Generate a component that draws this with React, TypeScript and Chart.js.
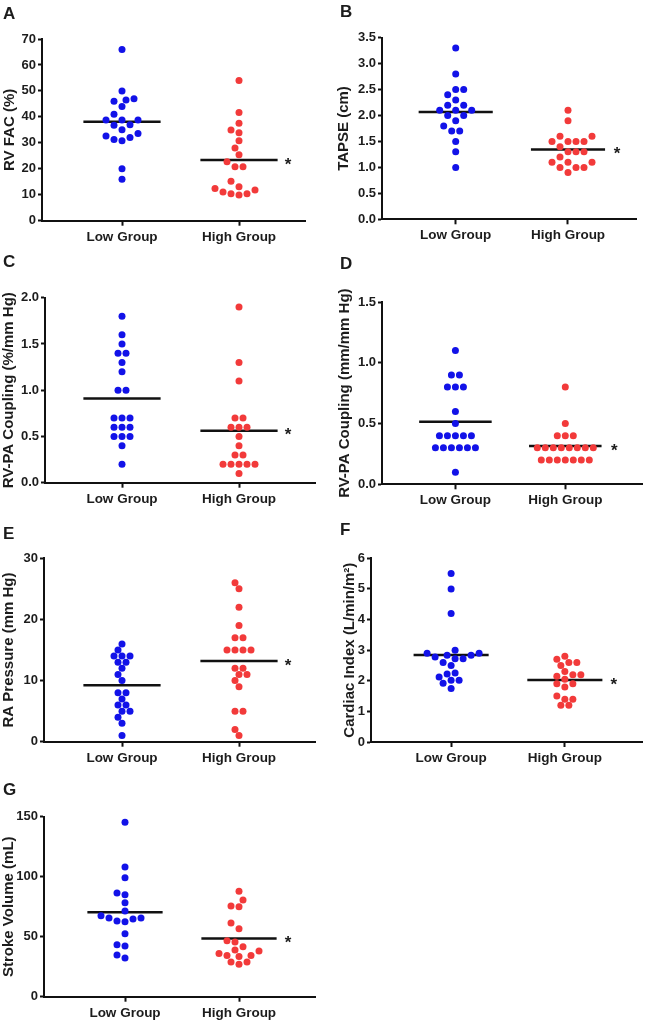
import React, { useEffect, useLayoutEffect, useRef } from "react";
import { Chart, registerables } from "chart.js";

Chart.register(...registerables);

// ---------- data ----------
const groupLabels = ["Low Group", "High Group"];

// A: RV FAC (%)
const rvFacLow = [66, 50, 47, 46.5, 46, 44, 41, 38.8, 38.8, 38.8, 37, 36.8, 35, 33.6, 32.6, 32.1, 31.3, 30.8, 20, 16];
const rvFacHigh = [54, 41.7, 37.5, 34.9, 33.9, 30.8, 28, 25.4, 22.7, 20.8, 20.8, 15.2, 13.1, 12.4, 11.8, 11.1, 10.4, 10.4, 9.9];
// B: TAPSE (cm)
const tapseLow = [3.3, 2.8, 2.5, 2.5, 2.4, 2.3, 2.2, 2.2, 2.1, 2.1, 2.1, 2.0, 2.0, 1.9, 1.8, 1.7, 1.7, 1.5, 1.3, 1.0];
const tapseHigh = [2.1, 1.9, 1.6, 1.6, 1.5, 1.5, 1.5, 1.5, 1.4, 1.3, 1.3, 1.3, 1.2, 1.1, 1.1, 1.1, 1.0, 1.0, 1.0, 0.9];
// C: RV-PA Coupling (%/mm Hg)
const facCouplingLow = [1.8, 1.6, 1.5, 1.4, 1.4, 1.3, 1.2, 1.0, 1.0, 0.7, 0.7, 0.7, 0.6, 0.6, 0.6, 0.5, 0.5, 0.5, 0.4, 0.2];
const facCouplingHigh = [1.9, 1.3, 1.1, 0.7, 0.7, 0.6, 0.6, 0.6, 0.5, 0.4, 0.3, 0.3, 0.2, 0.2, 0.2, 0.2, 0.2, 0.1];
// D: RV-PA Coupling (mm/mm Hg)
const tapseCouplingLow = [1.1, 0.9, 0.9, 0.8, 0.8, 0.8, 0.6, 0.5, 0.4, 0.4, 0.4, 0.4, 0.4, 0.3, 0.3, 0.3, 0.3, 0.3, 0.3, 0.1];
const tapseCouplingHigh = [0.8, 0.5, 0.4, 0.4, 0.4, 0.3, 0.3, 0.3, 0.3, 0.3, 0.3, 0.3, 0.3, 0.2, 0.2, 0.2, 0.2, 0.2, 0.2, 0.2];
// E: RA Pressure (mm Hg)
const raPressureLow = [16, 15, 14, 14, 14, 13, 13, 12, 11, 10, 8, 8, 7, 6, 6, 5, 5, 4, 3, 1];
const raPressureHigh = [26, 25, 22, 19, 17, 17, 15, 15, 15, 15, 12, 12, 11, 11, 10, 9, 5, 5, 2, 1];
// F: Cardiac Index (L/min/m²)
const cardiacIndexLow = [5.5, 5.0, 4.2, 3.0, 2.9, 2.9, 2.83, 2.83, 2.78, 2.72, 2.72, 2.6, 2.5, 2.25, 2.22, 2.12, 2.02, 2.02, 1.92, 1.75];
const cardiacIndexHigh = [2.8, 2.7, 2.6, 2.6, 2.5, 2.3, 2.2, 2.2, 2.15, 2.05, 1.9, 1.9, 1.8, 1.5, 1.4, 1.4, 1.2, 1.2];
// G: Stroke Volume (mL)
const strokeVolumeLow = [145.3, 108.1, 99.2, 86.4, 85, 78.3, 71.4, 67.5, 65.6, 65.6, 64.7, 63.1, 62.5, 52.5, 43.3, 42.2, 34.7, 32.2];
const strokeVolumeHigh = [87.8, 80.6, 75.6, 75, 61.4, 56.7, 46.7, 45.6, 41.7, 38.9, 38, 36.1, 34.4, 34.4, 33.6, 28.9, 28.9, 27];

// ---------- styles ----------
const FONT = "'Liberation Sans', Arial, Helvetica, sans-serif";
const BLUE = "#1212e8";
const RED = "#f23a3a";
const TEXT = "#1c1c1c";
const AXIS = "#111111";

type PanelCfg = {
  letter: string;
  yTitle: string;
  low: number[];
  high: number[];
  yMax: number;
  yStep: number;
  decimals: number;
  box: [number, number, number, number]; // left, top, width, height
  area: [number, number, number, number]; // left, top, right, bottom
  tickPx: [number, number];
  titleCenterX: number;
  letterPos: [number, number];
};

const panels: PanelCfg[] = [
  { letter: "A", yTitle: "RV FAC (%)", low: rvFacLow, high: rvFacHigh, yMax: 70, yStep: 10, decimals: 0,
    box: [0, 0, 323, 270], area: [42, 39, 305, 220.7], tickPx: [122, 239], titleCenterX: 10, letterPos: [3, 4.8] },
  { letter: "B", yTitle: "TAPSE (cm)", low: tapseLow, high: tapseHigh, yMax: 3.5, yStep: 0.5, decimals: 1,
    box: [323, 0, 323, 270], area: [382, 37.7, 636, 219.3], tickPx: [455.7, 568], titleCenterX: 344, letterPos: [340, 2.8] },
  { letter: "C", yTitle: "RV-PA Coupling (%/mm Hg)", low: facCouplingLow, high: facCouplingHigh, yMax: 2, yStep: 0.5, decimals: 1,
    box: [0, 255, 323, 270], area: [45, 297.7, 315, 482.7], tickPx: [122, 239], titleCenterX: 9, letterPos: [3, 252.8] },
  { letter: "D", yTitle: "RV-PA Coupling (mm/mm Hg)", low: tapseCouplingLow, high: tapseCouplingHigh, yMax: 1.5, yStep: 0.5, decimals: 1,
    box: [323, 255, 323, 270], area: [382, 302, 643, 484.3], tickPx: [455.7, 566], titleCenterX: 345, letterPos: [340, 254.8] },
  { letter: "E", yTitle: "RA Pressure (mm Hg)", low: raPressureLow, high: raPressureHigh, yMax: 30, yStep: 10, decimals: 0,
    box: [0, 510, 323, 270], area: [44, 558.3, 315, 741.7], tickPx: [122, 239], titleCenterX: 9, letterPos: [3, 524.5] },
  { letter: "F", yTitle: "Cardiac Index (L/min/m²)", low: cardiacIndexLow, high: cardiacIndexHigh, yMax: 6, yStep: 1, decimals: 0,
    box: [323, 510, 323, 270], area: [371, 558.3, 645, 742], tickPx: [452, 567], titleCenterX: 350, letterPos: [340, 521.1] },
  { letter: "G", yTitle: "Stroke Volume (mL)", low: strokeVolumeLow, high: strokeVolumeHigh, yMax: 150, yStep: 50, decimals: 0,
    box: [0, 765, 323, 265], area: [44, 816.7, 315, 996.7], tickPx: [125, 239], titleCenterX: 9, letterPos: [3, 781.1] },
];

const mean = (a: number[]) => a.reduce((s, v) => s + v, 0) / a.length;

// beeswarm: pixel offsets derived from the values
function swarmOffsets(values: number[], toPx: (v: number) => number, spacing: number, minDist: number): number[] {
  const offsets = new Array(values.length).fill(0);
  const rows = new Map<number, number[]>();
  values.forEach((v, i) => {
    const k = Math.round(v * 1000);
    if (!rows.has(k)) rows.set(k, []);
    rows.get(k)!.push(i);
  });
  const ordered = [...rows.entries()].sort((a, b) => a[0] - b[0]);
  const placed: { x: number; y: number }[] = [];
  const cands: number[] = [];
  for (let j = -40; j <= 40; j++) cands.push((j * spacing) / 2);
  for (const [, idxs] of ordered) {
    const m = idxs.length;
    idxs.forEach((i, k) => {
      const ideal = (k - (m - 1) / 2) * spacing;
      const y = toPx(values[i]);
      const sorted = [...cands].sort(
        (a, b) => Math.abs(a - ideal) - Math.abs(b - ideal) || Math.abs(a) - Math.abs(b) || a - b
      );
      for (const c of sorted) {
        if (placed.every((p) => Math.hypot(p.x - c, p.y - y) >= minDist)) {
          offsets[i] = c;
          placed.push({ x: c, y });
          break;
        }
      }
    });
  }
  return offsets;
}

function Panel({ cfg }: { cfg: PanelCfg }) {
  const ref = useRef<HTMLCanvasElement>(null);
  const [bx, by, bw, bh] = cfg.box;

  useEffect(() => {
    const canvas = ref.current!;
    const [al, at, ar, ab] = cfg.area;
    const unit = cfg.tickPx[1] - cfg.tickPx[0];
    const xMin = 1 - (cfg.tickPx[0] - al) / unit;
    const xMax = 2 + (ar - cfg.tickPx[1]) / unit;
    const yAxisWidth = al - bx;
    const xAxisHeight = 28;
    const padTop = at - by;
    const padRight = bx + bw - ar;
    const padBottom = Math.max(0, by + bh - ab - xAxisHeight);
    const titleSize = 15;
    const titlePad = Math.max(0, cfg.titleCenterX - bx - (titleSize * 1.2) / 2);
    const lowMean = mean(cfg.low);
    const highMean = mean(cfg.high);
    const half = 0.33;

    const starPlugin = {
      id: "sigStar",
      afterDatasetsDraw(chart: any) {
        const ctx = chart.ctx;
        const x = chart.scales.x.getPixelForValue(2) + 49;
        const y = chart.scales.y.getPixelForValue(highMean);
        const fs = 17;
        ctx.save();
        ctx.font = `bold ${fs}px ${FONT}`;
        ctx.fillStyle = TEXT;
        ctx.textAlign = "center";
        ctx.textBaseline = "alphabetic";
        ctx.fillText("*", x, y + 0.57 * fs);
        ctx.restore();
      },
    };

    const chart = new Chart(canvas, {
      type: "scatter",
      data: {
        datasets: [
          {
            label: groupLabels[0],
            data: cfg.low.map((v) => ({ x: 1, y: v })),
            backgroundColor: BLUE,
            borderWidth: 0,
            pointRadius: 3.5,
            clip: false,
            order: 0,
          } as any,
          {
            label: groupLabels[1],
            data: cfg.high.map((v) => ({ x: 2, y: v })),
            backgroundColor: RED,
            borderWidth: 0,
            pointRadius: 3.5,
            clip: false,
            order: 0,
          } as any,
          {
            type: "line",
            label: "mean low",
            data: [
              { x: 1 - half, y: lowMean },
              { x: 1 + half, y: lowMean },
            ],
            borderColor: AXIS,
            borderWidth: 2.5,
            pointRadius: 0,
            showLine: true,
            fill: false,
            clip: false,
            order: 1,
          } as any,
          {
            type: "line",
            label: "mean high",
            data: [
              { x: 2 - half, y: highMean },
              { x: 2 + half, y: highMean },
            ],
            borderColor: AXIS,
            borderWidth: 2.5,
            pointRadius: 0,
            showLine: true,
            fill: false,
            clip: false,
            order: 1,
          } as any,
        ],
      },
      options: {
        responsive: false,
        animation: false,
        events: [],
        layout: { padding: { left: 0, top: padTop, right: padRight, bottom: padBottom } },
        plugins: {
          legend: { display: false },
          tooltip: { enabled: false },
          title: { display: false },
        },
        scales: {
          x: {
            type: "linear",
            min: xMin,
            max: xMax,
            afterBuildTicks: (s: any) => {
              s.ticks = [{ value: 1 }, { value: 2 }];
            },
            afterFit: (s: any) => {
              s.height = xAxisHeight;
            },
            ticks: {
              callback: (v: any) => groupLabels[Math.round(Number(v)) - 1] ?? "",
              font: { family: FONT, size: 13.5, weight: "bold" },
              color: TEXT,
              padding: 3,
              maxRotation: 0,
              autoSkip: false,
            },
            grid: {
              display: true,
              drawOnChartArea: false,
              drawTicks: true,
              tickLength: 5,
              tickColor: AXIS,
              tickWidth: 2,
            },
            border: { display: true, color: AXIS, width: 2 },
          },
          y: {
            type: "linear",
            min: 0,
            max: cfg.yMax,
            afterFit: (s: any) => {
              s.width = yAxisWidth;
            },
            ticks: {
              stepSize: cfg.yStep,
              callback: (v: any) => Number(v).toFixed(cfg.decimals),
              font: { family: FONT, size: 13, weight: "bold" },
              color: TEXT,
              padding: 2,
            },
            grid: {
              display: true,
              drawOnChartArea: false,
              drawTicks: true,
              tickLength: 4,
              tickColor: AXIS,
              tickWidth: 2,
            },
            border: { display: true, color: AXIS, width: 2 },
            title: {
              display: true,
              text: cfg.yTitle,
              color: TEXT,
              font: { family: FONT, size: titleSize, weight: "bold", lineHeight: 1.2 },
              padding: { top: titlePad, bottom: 0 },
            },
          },
        },
      } as any,
      plugins: [starPlugin],
    });

    // spread the dots horizontally (beeswarm) using the chart's own scales
    const xs = chart.scales.x;
    const ys = chart.scales.y;
    const toPx = (v: number) => ys.getPixelForValue(v);
    [cfg.low, cfg.high].forEach((vals, gi) => {
      const center = xs.getPixelForValue(gi + 1);
      const offs = swarmOffsets(vals, toPx, 8, 7.3);
      (chart.data.datasets[gi].data as any[]).forEach((pt, i) => {
        pt.x = xs.getValueForPixel(center + offs[i]);
      });
    });
    chart.update("none");

    return () => chart.destroy();
  }, [cfg]);

  return (
    <>
      <canvas
        ref={ref}
        width={bw}
        height={bh}
        style={{ position: "absolute", left: bx, top: by, width: bw, height: bh }}
      />
      <div
        style={{
          position: "absolute",
          left: cfg.letterPos[0],
          top: cfg.letterPos[1],
          font: `bold 17px ${FONT}`,
          lineHeight: "17px",
          color: TEXT,
        }}
      >
        {cfg.letter}
      </div>
    </>
  );
}

export default function App() {
  useLayoutEffect(() => {
    document.body.style.margin = "0";
  }, []);
  return (
    <div style={{ position: "relative", width: 646, height: 1020, background: "#ffffff", overflow: "hidden" }}>
      {panels.map((p) => (
        <Panel key={p.letter} cfg={p} />
      ))}
    </div>
  );
}
